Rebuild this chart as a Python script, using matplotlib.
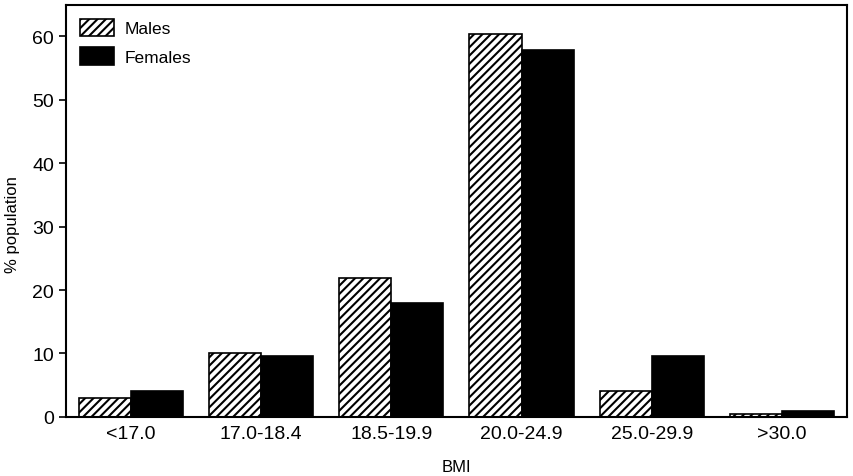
import numpy as np
import matplotlib
matplotlib.use("Agg")
import matplotlib.pyplot as plt

categories = ["<17.0", "17.0-18.4", "18.5-19.9", "20.0-24.9", "25.0-29.9", ">30.0"]
males = [3.0, 10.0, 21.9, 60.4, 4.0, 0.4]
females = [4.1, 9.6, 18.0, 57.9, 9.6, 1.0]

plt.rcParams["font.family"] = ["Liberation Sans", "DejaVu Sans"]
plt.rcParams["hatch.linewidth"] = 1.5

fig = plt.figure(figsize=(8.54, 4.77), dpi=100)
ax = fig.add_axes([0.077, 0.124, 0.915, 0.864])

x = np.arange(len(categories))
w = 0.4
ax.bar(x - w / 2, males, w, facecolor="white", edgecolor="black", hatch="////", linewidth=1.2, label="Males")
ax.bar(x + w / 2, females, w, facecolor="black", edgecolor="black", linewidth=1.2, label="Females")

ax.set_xlim(-0.5, 5.5)
ax.set_ylim(0, 65)
ax.set_yticks([0, 10, 20, 30, 40, 50, 60])
ax.set_xticks(x)
ax.set_xticklabels(categories)
ax.tick_params(axis="x", length=0, labelsize=14, pad=6)
ax.tick_params(axis="y", length=5, width=1.2, labelsize=14)
for s in ax.spines.values():
    s.set_linewidth(1.5)

ax.set_xlabel("BMI", fontsize=12, labelpad=12)
ax.set_ylabel("% population", fontsize=12)
ax.yaxis.set_label_coords(-0.058, 0.47)

ax.legend(loc="upper left", frameon=False, fontsize=12.5, handlelength=2.0, handleheight=1.2,
          borderaxespad=0.4, labelspacing=0.6, handletextpad=0.6)

fig.savefig("out.png", dpi=100)
